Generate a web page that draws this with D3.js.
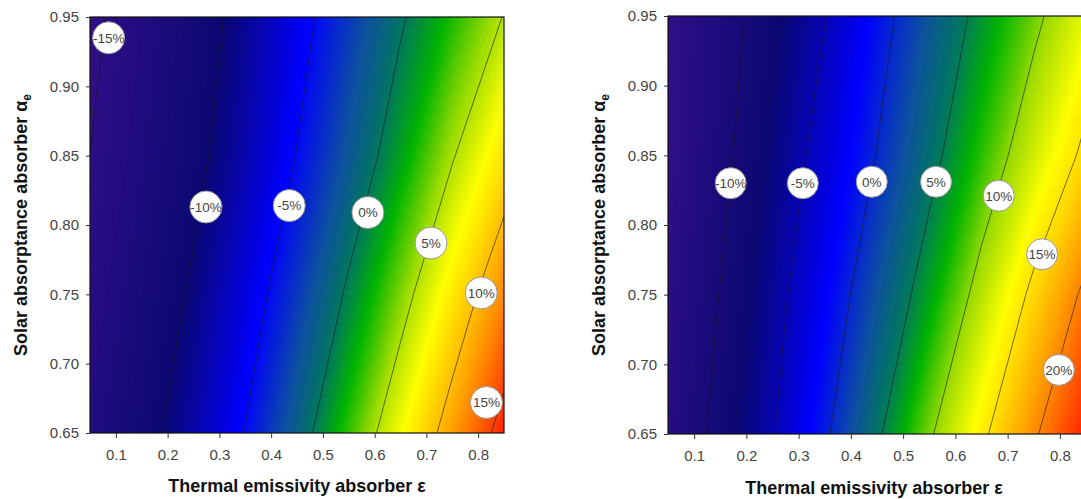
<!DOCTYPE html>
<html>
<head>
<meta charset="utf-8">
<script src="https://cdn.jsdelivr.net/npm/d3@7"></script>
<style>
  body { margin: 0; background: #fff; }
  svg { display: block; font-family: "Liberation Sans", Arial, sans-serif; }
  .tick text { font-size: 15px; fill: #444; }
  .tick line { stroke: #333; }
  .title { font-size: 18px; font-weight: bold; fill: #111; }
  .lbl text { font-size: 13.5px; fill: #444; }
</style>
</head>
<body>
<svg id="chart" width="1081" height="499"></svg>
<script>
// grid sample positions (columns = emissivity, rows = absorptance, top row first)
var xCols = [0.05, 0.15, 0.25, 0.35, 0.45, 0.55, 0.65, 0.75, 0.85];
var yRows = [0.95, 0.85, 0.75, 0.65];

// left panel, values in %
var leftValues = [
  [-15.6, -13.5, -11.4, -9.0, -6.0, -3.1, -0.3, 2.4, 5.1],
  [-15.0, -12.9, -10.8, -8.1, -4.9, -1.8, 1.4, 4.8, 8.3],
  [-14.2, -12.0, -9.6, -6.4, -3.1, 0.4, 4.0, 8.0, 12.2],
  [-13.3, -11.1, -8.3, -4.9, -1.2, 2.8, 6.9, 11.3, 16.2]
];
var leftLevels = [-15, -10, -5, 0, 5, 10, 15];
var leftLabelX = [0.086, 0.274, 0.435, 0.587, 0.709, 0.806, 0.816];
var leftLabelY = [0.935, 0.813, 0.814, 0.809, 0.787, 0.751, 0.672];

// right panel, values in %
var rightValues = [
  [-14.6, -11.4, -8.3, -5.1, -1.2, 2.4, 5.9, 9.3, 12.8],
  [-14.5, -10.9, -7.3, -3.7, 0.1, 4.0, 8.0, 11.9, 15.7],
  [-13.6, -9.9, -6.2, -2.1, 2.2, 6.5, 11.1, 15.7, 20.8],
  [-12.8, -9.0, -5.2, -0.5, 4.5, 9.6, 14.3, 19.5, 24.8]
];
var rightLevels = [-10, -5, 0, 5, 10, 15, 20];
var rightLabelX = [0.170, 0.308, 0.440, 0.563, 0.683, 0.766, 0.798];
var rightLabelY = [0.830, 0.830, 0.831, 0.831, 0.821, 0.779, 0.696];

var xTicks = [0.1, 0.2, 0.3, 0.4, 0.5, 0.6, 0.7, 0.8];
var yTicks = [0.65, 0.70, 0.75, 0.80, 0.85, 0.90, 0.95];

// colour gradient (fraction of range -> colour)
var gradStops = [0, 0.17, 0.32, 0.42, 0.49, 0.55, 0.63, 0.71, 0.83, 1];
var gradColors = ["#2f0f87", "#0b0872", "#0000ff", "#0d50a0", "#007a5a", "#00b400",
                  "#a0dc00", "#ffff00", "#ffa800", "#ff1e00"];

var svg = d3.select("#chart");

var panels = [
  { values: leftValues, levels: leftLevels, lx: leftLabelX, ly: leftLabelY,
    left: 90, right: 504, top: 17, bottom: 433, yTitleX: 27, xTitleX: 297, xTitleY: 492, r: 16 },
  { values: rightValues, levels: rightLevels, lx: rightLabelX, ly: rightLabelY,
    left: 668, right: 1086, top: 16, bottom: 434, yTitleX: 605, xTitleX: 874, xTitleY: 494, r: 15.5 }
];

panels.forEach(function (p, pi) {
  var x = d3.scaleLinear().domain([0.05, 0.85]).range([p.left, p.right]);
  var y = d3.scaleLinear().domain([0.65, 0.95]).range([p.bottom, p.top]);

  var nx = xCols.length, ny = yRows.length;
  var gx = d3.scaleLinear().domain([0.5, nx - 0.5]).range([x(xCols[0]), x(xCols[nx - 1])]);
  var gy = d3.scaleLinear().domain([0.5, ny - 0.5]).range([y(yRows[0]), y(yRows[ny - 1])]);
  var path = d3.geoPath(d3.geoTransform({
    point: function (a, b) { this.stream.point(gx(a), gy(b)); }
  }));

  var flat = p.values.flat();
  var ext = d3.extent(flat);
  var color = d3.scaleLinear()
    .domain(gradStops.map(function (t) { return ext[0] + t * (ext[1] - ext[0]); }))
    .range(gradColors)
    .interpolate(d3.interpolateRgb)
    .clamp(true);

  var clipId = "clip" + pi;
  svg.append("clipPath").attr("id", clipId)
    .append("rect")
    .attr("x", p.left).attr("y", p.top)
    .attr("width", p.right - p.left).attr("height", p.bottom - p.top);

  var g = svg.append("g").attr("clip-path", "url(#" + clipId + ")");

  var fillLevels = d3.range(Math.floor(ext[0]), ext[1], 0.25);
  var fills = d3.contours().size([nx, ny]).thresholds(fillLevels)(flat);
  g.selectAll("path.band")
    .data(fills).enter()
    .append("path")
    .attr("class", "band")
    .attr("d", path)
    .attr("fill", function (d) { return color(d.value); });

  var lines = d3.contours().size([nx, ny]).thresholds(p.levels)(flat);
  g.selectAll("path.iso")
    .data(lines).enter()
    .append("path")
    .attr("class", "iso")
    .attr("d", path)
    .attr("fill", "none")
    .attr("stroke", "#1a1a1a")
    .attr("stroke-opacity", 0.75)
    .attr("stroke-width", 0.8);

  // frame
  svg.append("rect")
    .attr("x", p.left).attr("y", p.top)
    .attr("width", p.right - p.left).attr("height", p.bottom - p.top)
    .attr("fill", "none").attr("stroke", "#111").attr("stroke-width", 1.2);

  // axes
  var ax = svg.append("g")
    .attr("transform", "translate(0," + p.bottom + ")")
    .call(d3.axisBottom(x).tickValues(xTicks).tickFormat(d3.format(".1f"))
      .tickSize(5).tickPadding(11));
  ax.select(".domain").remove();

  var ay = svg.append("g")
    .attr("transform", "translate(" + p.left + ",0)")
    .call(d3.axisLeft(y).tickValues(yTicks).tickFormat(d3.format(".2f"))
      .tickSize(4).tickPadding(7));
  ay.select(".domain").remove();
  svg.selectAll(".tick text").attr("font-family", null).attr("font-size", null);

  // titles
  svg.append("text")
    .attr("class", "title")
    .attr("x", p.xTitleX).attr("y", p.xTitleY)
    .attr("text-anchor", "middle")
    .text("Thermal emissivity absorber \u03b5");

  var yt = svg.append("text")
    .attr("class", "title")
    .attr("transform", "translate(" + p.yTitleX + "," + ((p.top + p.bottom) / 2) + ") rotate(-90)")
    .attr("text-anchor", "middle");
  yt.append("tspan").text("Solar absorptance absorber \u03b1");
  yt.append("tspan").attr("dy", 4).attr("font-size", 12).text("e");

  // contour labels
  var lbl = svg.append("g").attr("class", "lbl")
    .selectAll("g")
    .data(p.levels).enter()
    .append("g")
    .attr("transform", function (d, i) {
      return "translate(" + x(p.lx[i]) + "," + y(p.ly[i]) + ")";
    });
  lbl.append("circle")
    .attr("r", p.r)
    .attr("fill", "#fff")
    .attr("stroke", "#999")
    .attr("stroke-width", 1);
  lbl.append("text")
    .attr("text-anchor", "middle")
    .attr("dy", "0.36em")
    .text(function (d) { return d + "%"; });
});
</script>
</body>
</html>
